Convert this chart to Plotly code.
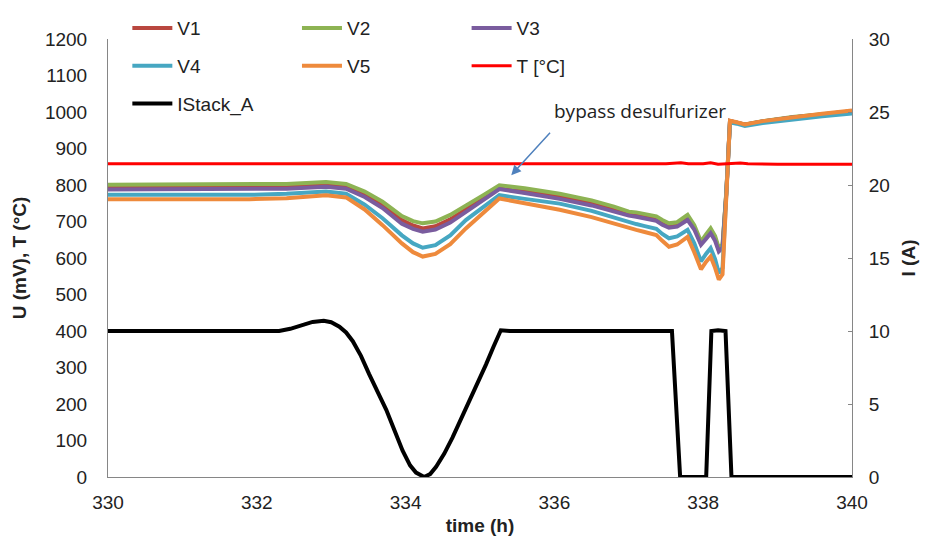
import plotly.graph_objects as go

# ---- data ----
t_v = [330.0, 331.0, 331.9, 332.4, 332.93, 333.2, 333.45, 333.69, 333.95, 334.1, 334.23,
       334.4, 334.6, 334.81, 335.05, 335.26, 335.6, 336.07, 336.5, 336.8, 337.0, 337.1,
       337.2, 337.37, 337.45, 337.54, 337.65, 337.79, 337.88, 337.97, 338.04, 338.1,
       338.16, 338.21, 338.26, 338.31, 338.36, 338.45, 338.56, 338.8, 339.2, 339.6, 340.0]

V1 = [794, 794, 794, 796, 801, 796, 774, 745, 704, 689, 681, 687, 706, 735, 765, 793, 784,
      770, 752, 734, 721, 718, 714, 708, 697, 689, 692, 711, 684, 640, 660, 675, 654, 622,
      632, 778, 975, 971, 965, 974, 985, 993, 1002]
V2 = [801, 801, 801, 803, 808, 803, 782, 754, 715, 701, 695, 700, 718, 745, 773, 799, 791,
      776, 758, 741, 727, 725, 720, 714, 704, 695, 698, 718, 690, 645, 665, 681, 660, 627,
      637, 780, 975, 972, 966, 975, 986, 994, 1002]
V3 = [788, 788, 788, 790, 795, 790, 767, 737, 694, 680, 672, 678, 697, 727, 758, 789, 778,
      762, 744, 727, 716, 713, 708, 702, 691, 683, 686, 704, 678, 636, 653, 668, 647, 618,
      628, 775, 975, 971, 965, 974, 985, 993, 1002]
V4 = [773, 773, 773, 776, 782, 776, 746, 709, 662, 640, 628, 635, 662, 704, 740, 772, 762,
      749, 729, 710, 697, 693, 688, 680, 666, 654, 659, 677, 640, 591, 612, 627, 597, 559,
      573, 765, 972, 968, 962, 970, 980, 988, 996]
V5 = [761, 761, 761, 764, 772, 766, 733, 690, 640, 616, 604, 611, 638, 681, 724, 763, 750,
      732, 712, 694, 681, 677, 672, 663, 647, 631, 637, 658, 616, 569, 590, 604, 573, 541,
      555, 760, 976, 972, 966, 975, 986, 995, 1004]

t_T = [330, 331, 332, 333, 334, 335, 336, 337, 337.3, 337.5, 337.7, 337.8, 338.0, 338.1,
       338.2, 338.4, 338.5, 338.6, 338.8, 339, 340]
T = [858, 858, 858, 858, 858, 858, 858, 858, 858, 858, 861, 858, 858, 861, 857, 858, 860,
     858, 857, 857, 857]

t_I = [330, 332.3, 332.45, 332.6, 332.75, 332.9, 333.0, 333.11, 333.2, 333.29, 333.4,
       333.51, 333.62, 333.74, 333.85, 333.96, 334.06, 334.14, 334.25, 334.33, 334.41,
       334.52, 334.63, 334.75, 334.86, 334.97, 335.08, 335.18, 335.28, 335.4, 337.58,
       337.69, 338.04, 338.11, 338.2, 338.3, 338.38, 339.0, 340]
I_stack = [10, 10, 10.15, 10.4, 10.62, 10.7, 10.6, 10.3, 9.9, 9.3, 8.3,
           7.05, 5.9, 4.6, 3.2, 1.8, 0.8, 0.3, 0, 0.2, 0.7,
           1.6, 2.7, 4.0, 5.2, 6.5, 7.7, 8.9, 10.05, 10, 10,
           0, 0, 10, 10.05, 10, 0, 0, 0]

left_ticks = list(range(0, 1201, 100))
right_ticks = list(range(0, 31, 5))
x_ticks = list(range(330, 341, 2))

FONT = "Liberation Sans, Arial, sans-serif"
FS = 19
AX = "#868686"

fig = go.Figure()
series = [
    ("V1", t_v, V1, "#B9473F", 4, "legend"),
    ("V2", t_v, V2, "#8DB353", 4, "legend2"),
    ("V3", t_v, V3, "#7A5C9E", 4, "legend3"),
    ("V4", t_v, V4, "#46A7C2", 4, "legend"),
    ("V5", t_v, V5, "#EE8A3C", 4, "legend2"),
    ("T [°C]", t_T, T, "#FF0000", 3, "legend3"),
]
for name, xs, ys, col, w, lg in series:
    fig.add_trace(go.Scatter(x=xs, y=ys, name=name, mode="lines",
                             line=dict(color=col, width=w), legend=lg,
                             legendgroup=name))
fig.add_trace(go.Scatter(x=t_I, y=I_stack, name="IStack_A", mode="lines",
                         line=dict(color="#000000", width=4), yaxis="y2",
                         legend="legend", legendgroup="IStack_A"))

leg_common = dict(font=dict(family=FONT, size=FS, color="#222"), bgcolor="rgba(0,0,0,0)",
                  yanchor="top", xanchor="left", y=1.068, itemwidth=40,
                  tracegroupgap=10, traceorder="grouped")

fig.update_layout(
    width=925, height=543,
    margin=dict(l=108, r=73, t=39, b=66, autoexpand=False),
    paper_bgcolor="white", plot_bgcolor="white",
    font=dict(family=FONT, size=FS, color="#222"),
    showlegend=True,
    legend=dict(x=0.026, **leg_common),
    legend2=dict(x=0.254, **leg_common),
    legend3=dict(x=0.482, **leg_common),
    xaxis=dict(range=[330, 340], tickvals=x_ticks, showgrid=False, zeroline=False,
               showline=True, linecolor=AX, linewidth=1, ticks="",
               ticklabelstandoff=8,
               title=dict(text="<b>time (h)</b>", font=dict(size=FS), standoff=6)),
    yaxis=dict(range=[0, 1200], tickvals=left_ticks, showgrid=False, zeroline=False,
               showline=True, linecolor=AX, linewidth=1, ticks="",
               ticklabelstandoff=16,
               title=dict(text="<b>U (mV), T (°C)</b>", font=dict(size=FS), standoff=13)),
    yaxis2=dict(range=[0, 30], tickvals=right_ticks, overlaying="y", side="right",
                showgrid=False, zeroline=False, showline=True, linecolor=AX,
                linewidth=1, ticks="inside", ticklen=4, tickcolor=AX,
                ticklabelstandoff=12,
                title=dict(text="<b>I (A)</b>", font=dict(size=FS), standoff=12)),
    annotations=[
        dict(x=335.42, y=827, xref="x", yref="y", ax=335.96, ay=947,
             axref="x", ayref="y", text="", showarrow=True, arrowhead=2,
             arrowsize=1.3, arrowwidth=1.5, arrowcolor="#4F81BD"),
        dict(x=337.15, y=1004, xref="x", yref="y", text="bypass desulfurizer",
             showarrow=False, font=dict(family="Open Sans, sans-serif", size=19,
                                        color="#222")),
    ],
)

fig.write_html("out.html")
